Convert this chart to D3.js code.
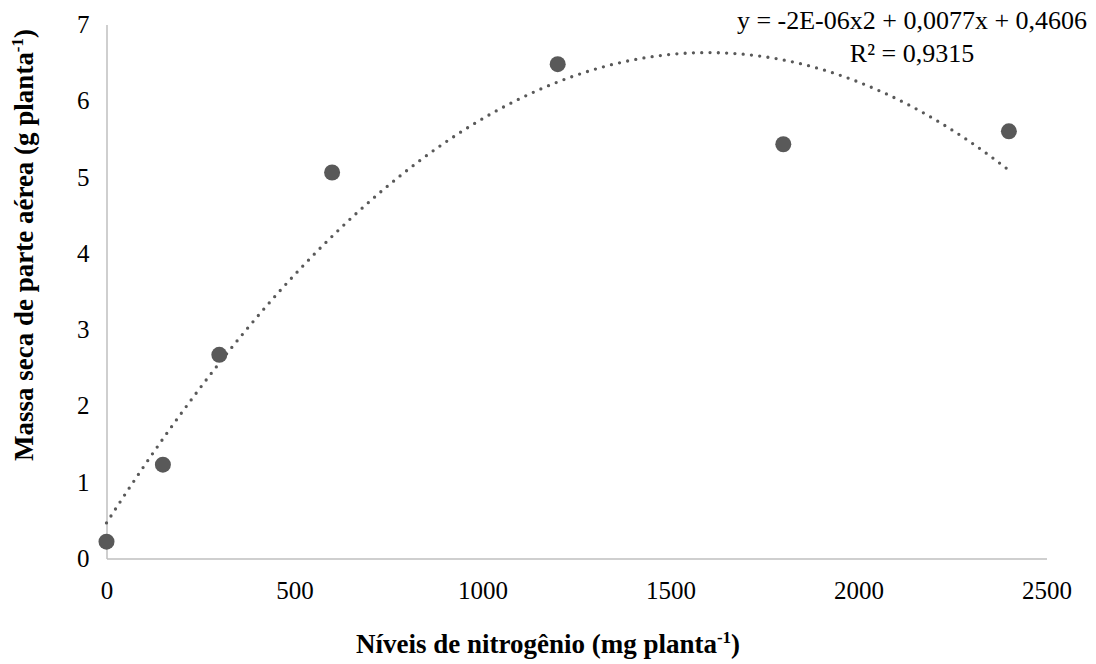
<!DOCTYPE html>
<html>
<head>
<meta charset="utf-8">
<script src="https://cdn.jsdelivr.net/npm/d3@7"></script>
<style>
  body { margin: 0; background: #fff; }
  text { font-family: "Liberation Serif", "Times New Roman", serif; }
</style>
</head>
<body>
<div id="my_dataviz_massa"></div>
<script>
// data
const nitrogenLevels = [0, 150, 300, 600, 1200, 1800, 2400];
const dryMass = [0.22, 1.23, 2.67, 5.06, 6.48, 5.43, 5.60];
const xTicks = [0, 500, 1000, 1500, 2000, 2500];
const yTicks = [0, 1, 2, 3, 4, 5, 6, 7];
const equationLines = ["y = -2E-06x2 + 0,0077x + 0,4606", "R² = 0,9315"];

// set the dimensions and margins of the graph
const margin = {top: 24.5, right: 49.5, bottom: 105.5, left: 106.5},
    width = 1096 - margin.left - margin.right,
    height = 664 - margin.top - margin.bottom;

const svg = d3.select("#my_dataviz_massa")
  .append("svg")
    .attr("width", 1096)
    .attr("height", 664)
  .append("g")
    .attr("transform", `translate(${margin.left}, ${margin.top})`);

const x = d3.scaleLinear().domain([0, 2500]).range([0, width]);
const y = d3.scaleLinear().domain([0, 7]).range([height, 0]);

// X axis
const xAxis = svg.append("g")
  .attr("transform", `translate(0, ${height})`)
  .call(d3.axisBottom(x).tickValues(xTicks).tickSize(0).tickPadding(22).tickFormat(d3.format("d")));

// Y axis
const yAxis = svg.append("g")
  .call(d3.axisLeft(y).tickValues(yTicks).tickSize(0).tickPadding(17).tickFormat(d3.format("d")));

[xAxis, yAxis].forEach(a => {
  a.select(".domain").attr("stroke", "#bfbfbf").attr("stroke-width", 1.5);
  a.selectAll("text")
    .style("font-family", "Liberation Serif")
    .style("font-size", "25px")
    .attr("fill", "#000");
});
xAxis.selectAll("text").attr("dy", "0.75em");

// quadratic least-squares trendline (like the spreadsheet one)
function quadFit(xs, ys) {
  const s = k => d3.sum(xs, v => Math.pow(v / 1000, k));
  const t = k => d3.sum(xs, (v, i) => Math.pow(v / 1000, k) * ys[i]);
  const m = [[s(0), s(1), s(2), t(0)], [s(1), s(2), s(3), t(1)], [s(2), s(3), s(4), t(2)]];
  for (let i = 0; i < 3; i++) {
    for (let j = i + 1; j < 3; j++) {
      const f = m[j][i] / m[i][i];
      for (let k = i; k < 4; k++) m[j][k] -= f * m[i][k];
    }
  }
  const c = [0, 0, 0];
  for (let i = 2; i >= 0; i--) {
    let v = m[i][3];
    for (let k = i + 1; k < 3; k++) v -= m[i][k] * c[k];
    c[i] = v / m[i][i];
  }
  return v => c[0] + c[1] * (v / 1000) + c[2] * Math.pow(v / 1000, 2);
}
const trend = quadFit(nitrogenLevels, dryMass);
const trendX = d3.range(0, d3.max(nitrogenLevels) + 1, 10);

const line = d3.line()
  .x(d => x(d))
  .y(d => y(trend(d)));

svg.append("path")
  .datum(trendX)
  .attr("d", line)
  .attr("fill", "none")
  .attr("stroke", "#595959")
  .attr("stroke-width", 3.3)
  .attr("stroke-linecap", "round")
  .attr("stroke-dasharray", "0 8.3");

// points
svg.selectAll("myPoints")
  .data(nitrogenLevels)
  .join("circle")
    .attr("cx", d => x(d))
    .attr("cy", (d, i) => y(dryMass[i]))
    .attr("r", 8)
    .attr("fill", "#595959");

// equation label
const eq = svg.append("text")
  .attr("text-anchor", "middle")
  .style("font-size", "26px")
  .attr("fill", "#000");
eq.selectAll("tspan")
  .data(equationLines)
  .join("tspan")
    .attr("x", 912 - margin.left)
    .attr("y", (d, i) => 29 + i * 33 - margin.top)
    .text(d => d);

// x axis title
const xt = svg.append("text")
  .attr("x", 548 - margin.left)
  .attr("y", 653 - margin.top)
  .attr("text-anchor", "middle")
  .style("font-size", "27px")
  .style("font-weight", "bold")
  .attr("fill", "#000");
xt.append("tspan").text("Níveis de nitrogênio (mg planta");
xt.append("tspan").attr("dy", -10).style("font-size", "17px").text("-1");
xt.append("tspan").attr("dy", 10).text(")");

// y axis title
const yt = svg.append("text")
  .attr("transform", `translate(${33 - margin.left}, ${245 - margin.top}) rotate(-90)`)
  .attr("text-anchor", "middle")
  .style("font-size", "27px")
  .style("font-weight", "bold")
  .attr("fill", "#000");
yt.append("tspan").text("Massa seca de parte aérea (g planta");
yt.append("tspan").attr("dy", -10).style("font-size", "17px").text("-1");
yt.append("tspan").attr("dy", 10).text(")");
</script>
</body>
</html>
